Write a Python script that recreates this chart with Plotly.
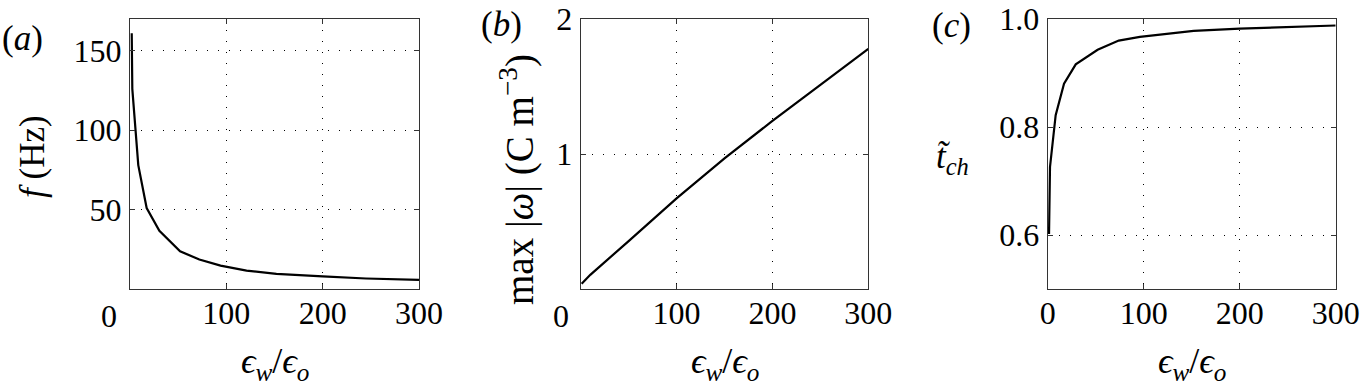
import plotly.graph_objects as go
from plotly.subplots import make_subplots

# ---- data ----
a_x = [1.8, 2.4, 8.6, 17.3, 30.5, 52, 72, 94, 121, 152, 200, 245, 300]
a_y = [161, 126, 78, 51, 36.7, 23.7, 18.6, 14.7, 11.6, 9.5, 7.9, 6.6, 5.7]

b_x = [1, 10, 50, 100, 150, 200, 250, 300]
b_y = [0.039, 0.105, 0.355, 0.671, 0.968, 1.245, 1.512, 1.778]

c_x = [1.4, 2.4, 8.3, 17, 29.2, 52, 74, 96, 152, 200, 300]
c_y = [0.602, 0.726, 0.822, 0.880, 0.916, 0.943, 0.960, 0.967, 0.978, 0.982, 0.988]

x_ticks_ab = [100, 200, 300]
x_ticks_c = [0, 100, 200, 300]
a_yticks = [50, 100, 150]
b_yticks = [1, 2]
c_yticks = [0.6, 0.8, 1.0]
c_yticktext = ["0.6", "0.8", "1.0"]

panel_labels = ["(<i>a</i>)", "(<i>b</i>)", "(<i>c</i>)"]
x_title = "<i>ϵ<sub>w</sub></i>/<i>ϵ<sub>o</sub></i>"
y_titles = ["<i>f</i> (Hz)", "max |<i>ω</i>| (C m<sup>−3</sup>)"]
c_ytitle = "<i>t̃<sub>ch</sub></i>"

W, H = 1362, 386
FONT = "Liberation Serif, Times New Roman, serif"
FS = 32

fig = make_subplots(rows=1, cols=3)

for i, (xs, ys) in enumerate([(a_x, a_y), (b_x, b_y), (c_x, c_y)]):
    fig.add_trace(go.Scatter(x=xs, y=ys, mode="lines", hoverinfo="skip",
                             line=dict(color="black", width=2.2)), row=1, col=i + 1)

# domains in pixels
px_dom = [(130, 419), (580.7, 868.3), (1047.7, 1335.7)]
ytop, ybot = 19, 289
ydom = [(H - ybot) / H, (H - ytop) / H]

common_axis = dict(
    automargin=False,
    showline=True, linecolor="#333", linewidth=1, mirror="ticks",
    ticks="inside", ticklen=5, tickcolor="#333",
    showgrid=True, gridcolor="black", gridwidth=1, griddash="1px,10px",
    zeroline=False,
    tickfont=dict(family=FONT, size=FS, color="black"),
)

for i, (x0, x1) in enumerate(px_dom):
    xa = "xaxis" if i == 0 else f"xaxis{i+1}"
    ya = "yaxis" if i == 0 else f"yaxis{i+1}"
    fig.layout[xa].update(domain=[x0 / W, x1 / W], range=[0, 300],
                          tickvals=x_ticks_c if i == 2 else x_ticks_ab,
                          ticklabelstandoff=-4, **common_axis)
    fig.layout[ya].update(domain=ydom, ticklabelstandoff=1, **common_axis)

fig.layout.yaxis.update(range=[0, 170], tickvals=a_yticks)
fig.layout.yaxis2.update(range=[0, 2], tickvals=b_yticks)
fig.layout.yaxis3.update(range=[0.5, 1.0], tickvals=c_yticks, ticktext=c_yticktext)

txtfont = dict(family=FONT, size=FS, color="black")
annotations = []
# shifted "0" tick labels for panels a and b
for xr, shift in [("x", -21), ("x2", -20)]:
    annotations.append(dict(x=0, xref=xr, y=ydom[0], yref="paper", text="0",
                            showarrow=False, xanchor="center", yanchor="top",
                            xshift=shift, yshift=-7, font=txtfont))
# x titles
for xr in ["x", "x2", "x3"]:
    annotations.append(dict(x=150, xref=xr, y=1 - 363 / H, yref="paper", text=x_title,
                            showarrow=False, xanchor="center", yanchor="middle",
                            font=dict(family=FONT, size=36, color="black")))
# rotated y titles for a and b
for (cx, cy), t, fs in zip([(32, 157), (517, 180)], y_titles, [35, 39]):
    annotations.append(dict(x=cx / W, y=1 - cy / H, xref="paper", yref="paper",
                            text=t, textangle=-90, showarrow=False,
                            xanchor="center", yanchor="middle",
                            font=dict(family=FONT, size=fs, color="black")))
# panel labels
for (lx, ly), t in zip([(22, 38), (501, 24), (951, 25)], panel_labels):
    annotations.append(dict(x=lx / W, y=1 - ly / H, xref="paper", yref="paper",
                            text=t, showarrow=False, xanchor="center", yanchor="middle",
                            font=dict(family=FONT, size=35, color="black")))
# horizontal y label for panel c
annotations.append(dict(x=952 / W, y=1 - 158 / H, xref="paper", yref="paper",
                        text=c_ytitle, showarrow=False,
                        xanchor="center", yanchor="middle",
                        font=dict(family=FONT, size=35, color="black")))

fig.update_layout(
    width=W, height=H,
    margin=dict(l=0, r=0, t=0, b=0),
    paper_bgcolor="white", plot_bgcolor="white",
    showlegend=False,
    font=txtfont,
    annotations=annotations,
)

fig.write_html("out.html", config={"displayModeBar": False},
               post_script="document.body.style.margin='0';document.body.style.padding='0';"
                           "document.body.style.overflow='hidden';")
